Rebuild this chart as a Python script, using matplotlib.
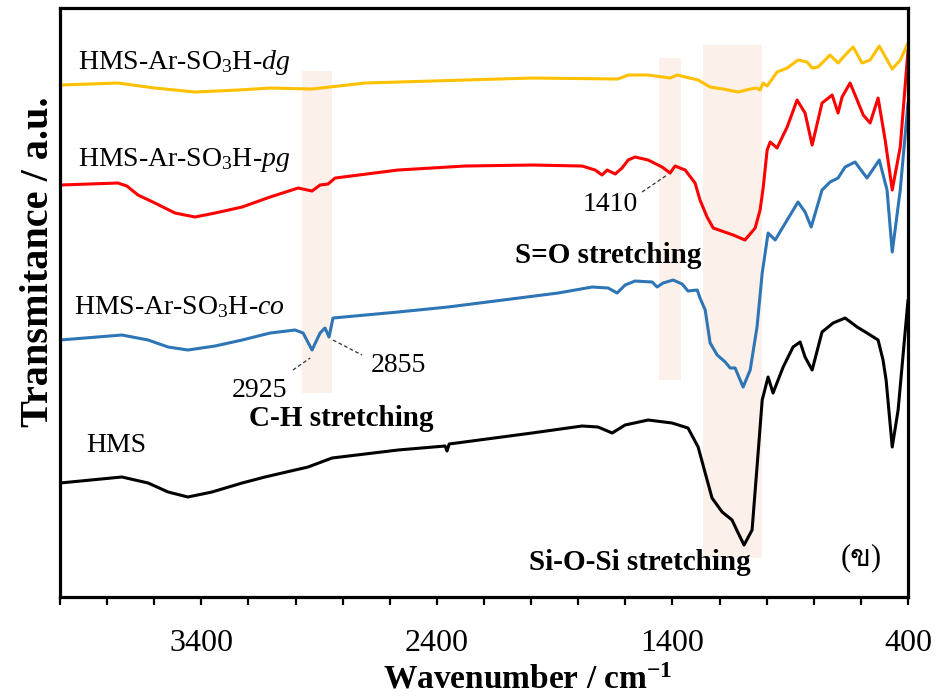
import matplotlib
matplotlib.use("Agg")
import matplotlib.pyplot as plt
from matplotlib import font_manager
from matplotlib.ft2font import FT2Font
from matplotlib.ticker import FixedLocator, MultipleLocator

plt.rcParams['font.family'] = 'Liberation Serif'
plt.rcParams['mathtext.fontset'] = 'custom'
plt.rcParams['mathtext.rm'] = 'Liberation Serif'
plt.rcParams['mathtext.it'] = 'Liberation Serif:italic'
plt.rcParams['mathtext.bf'] = 'Liberation Serif:bold'

# FTIR spectra, offset transmittance (a.u.)
wn_hms = [4000, 3737, 3626, 3541, 3457, 3355, 3227, 3130, 2947, 2845, 2565, 2365, 2357, 2348, 1996,
          1784, 1716, 1656, 1601, 1503, 1402, 1334, 1291, 1261, 1232, 1189, 1147, 1121, 1096, 1062,
          1041, 1019, 994, 973, 930, 888, 858, 837, 807, 765, 718, 667, 616, 574, 527,
          506, 493, 467, 442, 400]
t_hms = [114, 120, 114, 105, 100, 105, 114, 120, 130, 139, 147, 151, 146, 153, 164,
         171, 170, 164, 172, 177, 174, 169, 150, 124, 99, 85, 77, 64, 52, 67,
         130, 197, 220, 204, 230, 250, 255, 240, 227, 265, 274, 279, 270, 264, 257,
         237, 217, 150, 187, 297]

wn_co = [4000, 3737, 3626, 3541, 3457, 3342, 3227, 3108, 3002, 2968, 2930, 2896, 2875, 2858, 2841,
         2565, 2353, 1885, 1741, 1673, 1635, 1601, 1559, 1486, 1465, 1440, 1397, 1359, 1334, 1295,
         1283, 1261, 1240, 1210, 1176, 1155, 1134, 1100, 1070, 1041, 1019, 994, 964, 913, 867,
         837, 811, 765, 731, 697, 667, 625, 574, 522, 489, 467, 433, 400]
t_co = [257, 262, 257, 250, 247, 251, 257, 264, 267, 264, 247, 264, 269, 260, 279,
        285, 290, 304, 310, 309, 304, 312, 316, 315, 310, 314, 317, 313, 306, 307,
        299, 287, 254, 242, 235, 229, 229, 210, 227, 270, 324, 364, 357, 377, 395,
        385, 370, 407, 415, 419, 430, 435, 419, 437, 407, 345, 407, 494]

wn_pg = [4000, 3754, 3716, 3669, 3597, 3512, 3427, 3342, 3227, 3108, 2989, 2930, 2896, 2862, 2832,
         2565, 2280, 1996, 1784, 1728, 1699, 1677, 1643, 1614, 1588, 1559, 1503, 1444, 1410, 1389,
         1346, 1304, 1283, 1253, 1227, 1142, 1092, 1049, 1028, 1015, 998, 985, 956, 913, 871,
         837, 807, 765, 722, 697, 680, 646, 616, 590, 561, 527, 497, 467, 433, 400]
t_pg = [412, 414, 411, 402, 394, 384, 380, 384, 390, 400, 409, 406, 412, 413, 419,
        427, 431, 432, 431, 427, 422, 427, 423, 429, 437, 440, 437, 430, 424, 431,
        427, 414, 397, 380, 369, 362, 357, 369, 387, 409, 447, 455, 449, 470, 497,
        484, 452, 494, 502, 484, 500, 514, 497, 482, 474, 499, 457, 407, 450, 547]

wn_dg = [4000, 3754, 3597, 3427, 3244, 3108, 2930, 2705, 1996, 1631, 1588, 1503, 1410, 1380, 1291,
         1240, 1185, 1121, 1070, 1041, 1028, 1015, 998, 956, 913, 867, 828, 807, 782, 731,
         697, 667, 633, 595, 561, 522, 467, 433, 400]
t_dg = [512, 514, 509, 505, 507, 509, 508, 514, 519, 518, 522, 522, 519, 522, 517,
        510, 508, 505, 508, 509, 507, 514, 511, 525, 529, 537, 535, 529, 530, 542,
        534, 542, 550, 534, 537, 551, 528, 537, 554]

series = [
    (wn_hms, t_hms, 'black'),
    (wn_co, t_co, '#2E75B6'),
    (wn_pg, t_pg, '#FF0000'),
    (wn_dg, t_dg, '#FFC000'),
]

# shaded assignment regions: (wn_hi, wn_lo, t_bottom, t_top)
bands = [
    (2972, 2845, 204, 526),
    (1457, 1363, 217, 539),
    (1270, 1019, 39, 552),
]
band_color = '#FBF0EA'


def thai_family():
    for f in font_manager.fontManager.ttflist:
        try:
            if 0x0E02 in FT2Font(f.fname).get_charmap():
                return f.name
        except Exception:
            pass
    return 'DejaVu Sans'


fig = plt.figure(figsize=(9.39, 6.98), dpi=100)
ax = fig.add_axes([0.0639, 0.1447, 0.9031, 0.8438])

for x0, x1, y0, y1 in bands:
    ax.fill_between([x0, x1], y0, y1, color=band_color, lw=0, zorder=0)

for wn, t, c in series:
    ax.plot(wn, t, color=c, lw=2.2, solid_joinstyle='round', solid_capstyle='round', zorder=2)

ax.set_xlim(4000, 400)
ax.set_ylim(0, 589)
ax.xaxis.set_major_locator(FixedLocator([3400, 2400, 1400, 400]))
ax.xaxis.set_minor_locator(MultipleLocator(200))
ax.tick_params(axis='x', which='both', direction='out', length=6, width=1.6, pad=17, labelsize=23)
ax.set_yticks([])
for s in ax.spines.values():
    s.set_linewidth(2.3)

ax.set_xlabel(r'Wavenumber / cm$^{\mathbf{-1}}$', fontsize=24, fontweight='bold')
ax.xaxis.set_label_coords(0.552, -0.114)
ax.set_ylabel('Transmitance / a.u.', fontsize=29, fontweight='bold')
ax.yaxis.set_label_coords(-0.004, 0.569)

fs = 20
ax.text(3924, 535, r'HMS-Ar-SO$_3$H-$dg$', fontsize=fs, va='center')
ax.text(3924, 437, r'HMS-Ar-SO$_3$H-$pg$', fontsize=fs, va='center')
ax.text(3941, 290, r'HMS-Ar-SO$_3$H-$co$', fontsize=fs, va='center')
ax.text(3890, 152, 'HMS', fontsize=fs, va='center')

ax.text(3151, 207, '2925', fontsize=fs, ha='center', va='center')
ax.text(2565, 232, '2855', fontsize=fs, ha='center', va='center')
ax.text(1665, 393, '1410', fontsize=fs, ha='center', va='center')

leaders = [((3011, 227), (2938, 239)), ((2841, 257), (2718, 242)), ((1529, 405), (1423, 422))]
for (xa, ya), (xb, yb) in leaders:
    ax.plot([xa, xb], [ya, yb], color='#333333', lw=0.9, ls=(0, (3, 2)), zorder=3)

ax.text(2807, 179, 'C-H stretching', fontsize=21, fontweight='bold', ha='center', va='center')
ax.text(1673, 342, 'S=O stretching', fontsize=21, fontweight='bold', ha='center', va='center')
ax.text(1537, 35, 'Si-O-Si stretching', fontsize=21, fontweight='bold', ha='center', va='center')
ax.text(599, 39, '(ข)', fontsize=22, ha='center', va='center',
        family=['Liberation Serif', thai_family()])

fig.savefig('out.png', dpi=100)
